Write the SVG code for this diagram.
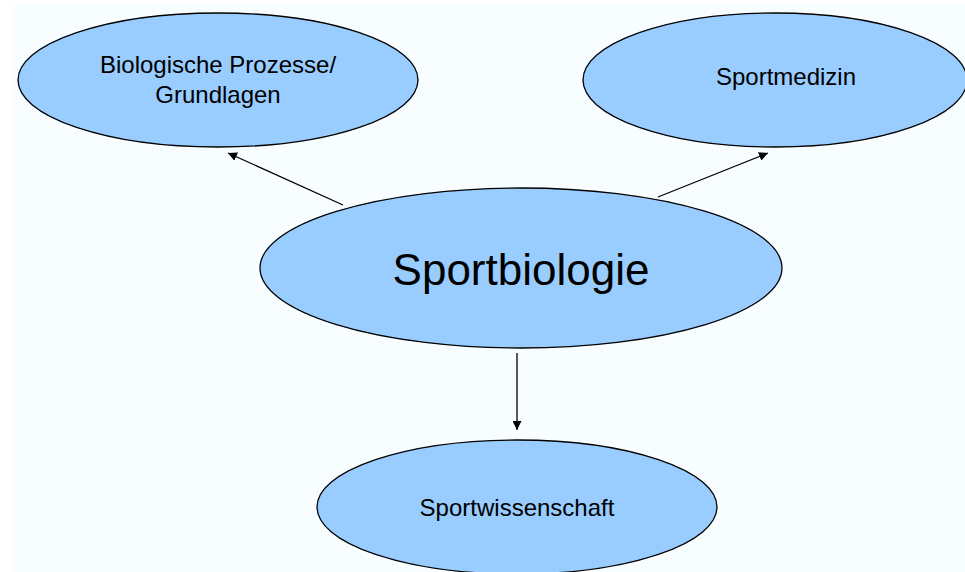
<svg xmlns="http://www.w3.org/2000/svg" width="965" height="572" viewBox="0 0 965 572">
<style>
.node ellipse{fill:#99CCFF;stroke:#000;stroke-width:1.3}
text{font-family:"Liberation Sans",Arial,sans-serif;fill:#000;text-anchor:middle}
.conn line{stroke:#000;stroke-width:1.3}
</style>
<defs>
<marker id="ah" viewBox="0 0 10 10" refX="10" refY="5" markerWidth="9" markerHeight="9" markerUnits="userSpaceOnUse" orient="auto">
<path d="M0,0 L10,5 L0,10 z" fill="#000"/>
</marker>
</defs>
<rect x="0" y="0" width="965" height="572" fill="#fff"/>
<rect x="12" y="4" width="953" height="568" fill="#F8FEFF"/>
<g id="node-bio" class="node">
<ellipse cx="218" cy="80" rx="200" ry="67"/>
<text x="218" y="73" font-size="24">Biologische Prozesse/</text>
<text x="218" y="103" font-size="24">Grundlagen</text>
</g>
<g id="node-med" class="node">
<ellipse cx="775" cy="80" rx="192" ry="67"/>
<text x="786" y="85" font-size="24">Sportmedizin</text>
</g>
<g id="node-center" class="node">
<ellipse cx="521" cy="268" rx="261" ry="80"/>
<text x="521" y="285" font-size="44">Sportbiologie</text>
</g>
<g id="node-wiss" class="node">
<ellipse cx="517" cy="507" rx="200" ry="67"/>
<text x="517" y="516" font-size="24">Sportwissenschaft</text>
</g>
<g class="conn" id="connectors">
<line x1="343" y1="205" x2="228" y2="153" marker-end="url(#ah)"/>
<line x1="658" y1="197" x2="768" y2="153" marker-end="url(#ah)"/>
<line x1="517" y1="353" x2="517" y2="430" marker-end="url(#ah)"/>
</g>
</svg>
